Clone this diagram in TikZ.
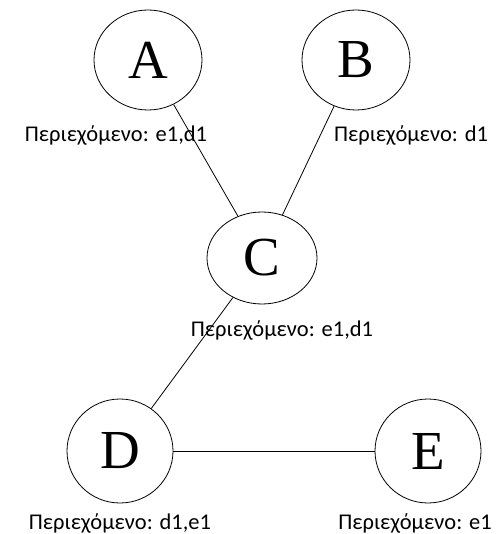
\documentclass[tikz,border=0pt]{standalone}
\usepackage{fontspec}
\setmainfont{Liberation Serif}
\newfontfamily\labelfont{Carlito}
\usetikzlibrary{shapes.geometric}
\begin{document}
\begin{tikzpicture}[x=1pt,y=-1pt,
  vertex/.style={draw,line width=0.8pt,ellipse,minimum width=#1,minimum height=100pt,inner sep=0pt,font=\fontsize{55}{55}\selectfont},
  vertex/.default=108pt,
  info/.style={font=\labelfont\fontsize{22.5}{26}\selectfont,inner sep=0pt},
  link/.style={line width=0.8pt}]
\useasboundingbox (0,0) rectangle (499,534);
% tree nodes
\node[vertex] (A) at (148,60) {A};
\node[vertex] (B) at (356,60) {B};
\node[vertex=110pt,minimum height=92pt] (C) at (262,258) {C};
\node[vertex=106pt,minimum height=104pt] (D) at (120,451) {D};
\node[vertex=106pt,minimum height=104pt] (E) at (428,451) {E};
% contents of each node
\node[info] (la) at (116,135) {Περιεχόμενο: e1,d1};
\node[info] (lb) at (411,135) {Περιεχόμενο: d1};
\node[info] (lc) at (282,330) {Περιεχόμενο: e1,d1};
\node[info] (ld) at (120,523) {Περιεχόμενο: d1,e1};
\node[info] (le) at (415,523) {Περιεχόμενο: e1};
% edges
\draw[link] (A) -- (C);
\draw[link] (B) -- (C);
\draw[link] (C) -- (D);
\draw[link] (D) -- (E);
\end{tikzpicture}
\end{document}
